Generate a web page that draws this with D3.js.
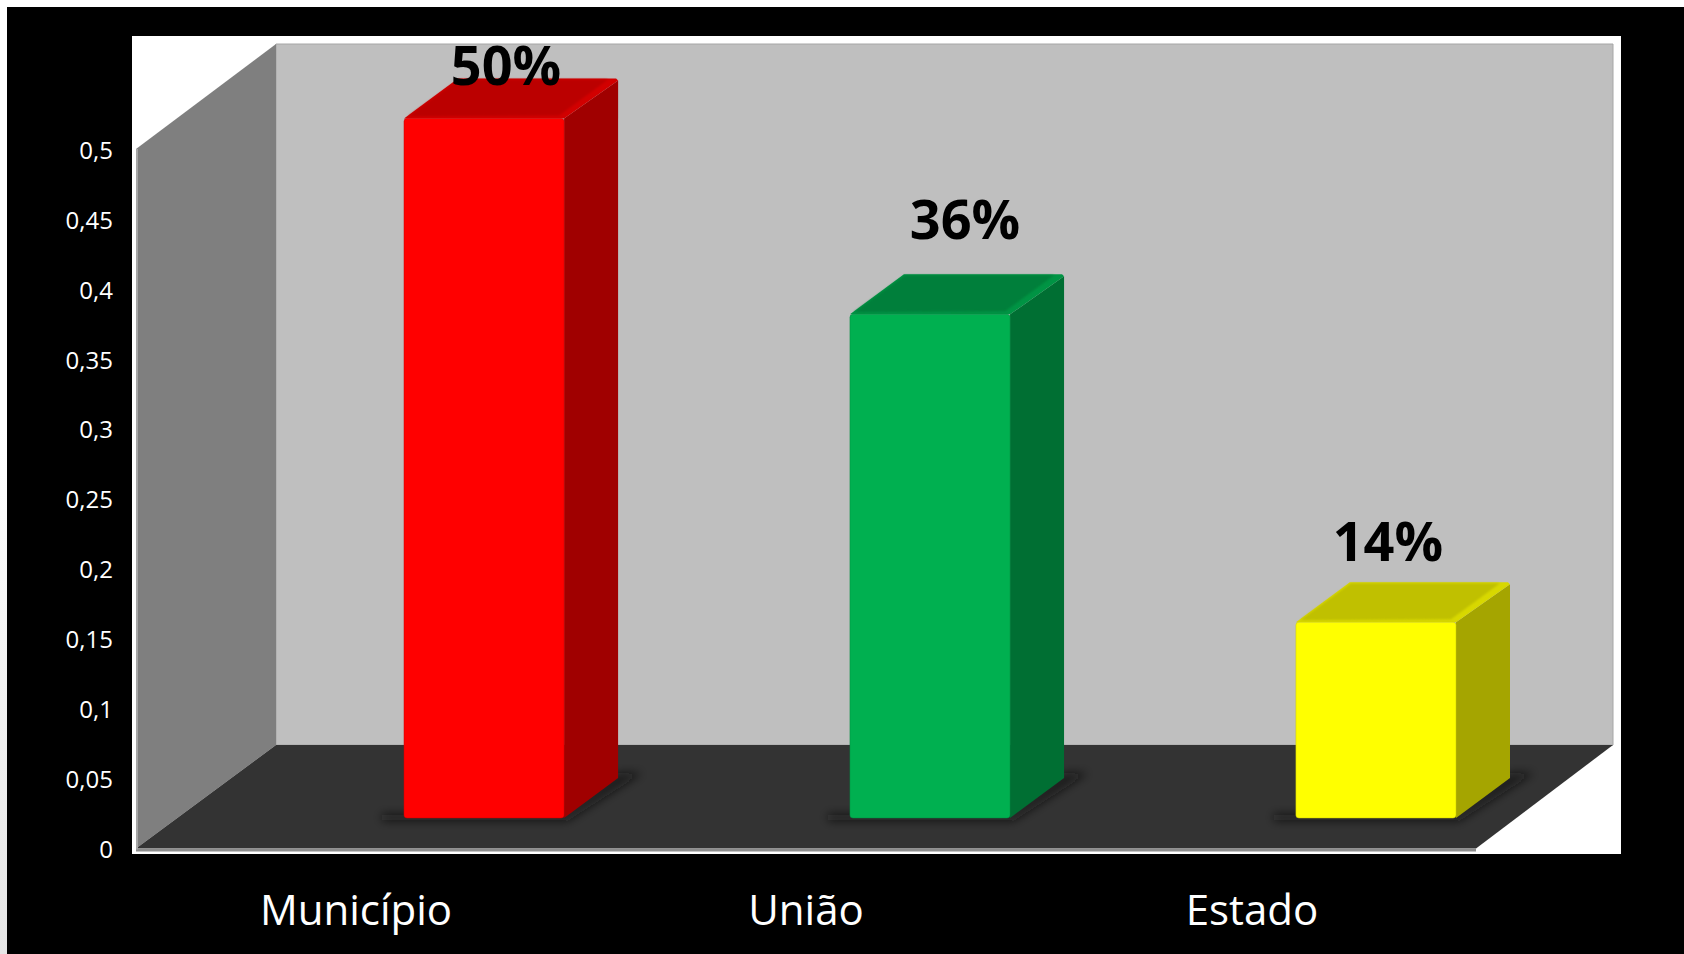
<!DOCTYPE html>
<html>
<head>
<meta charset="utf-8">
<script src="https://cdn.jsdelivr.net/npm/d3@7"></script>
<style>
    html, body { margin: 0; padding: 0; background: #fff; }
    svg { display: block; }
    text { font-family: "Open Sans", sans-serif; }
</style>
</head>
<body>
<svg id="chart" width="1684" height="954"></svg>
<script>
const categories = ["Município", "União", "Estado"];
const values = [0.5, 0.36, 0.14];
const valueLabels = ["50%", "36%", "14%"];
const yTicks = [0, 0.05, 0.1, 0.15, 0.2, 0.25, 0.3, 0.35, 0.4, 0.45, 0.5];

// face colours of each bar: front, top, bevel of the top, side
const frontColors = ["#ff0000", "#00b050", "#ffff00"];
const topColors = ["#bb0000", "#007f3a", "#c0c000"];
const bevelColors = ["#d20000", "#009444", "#d8d800"];
const sideColors = ["#a00000", "#006f33", "#a5a500"];

// the labels were placed by hand in the original, so they need a nudge
const labelNudgeX = [22, 35, 12];
const labelNudgeY = [34, 75, 61];
const categoryNudgeX = [-128, -124, -124];

const width = 1684;
const height = 954;

const svg = d3.select("#chart");
const defs = svg.append("defs");

defs.append("filter")
    .attr("id", "floorShadow")
    .attr("x", "-30%").attr("y", "-30%")
    .attr("width", "160%").attr("height", "160%")
    .append("feGaussianBlur")
    .attr("stdDeviation", 5);

defs.append("filter")
    .attr("id", "bevelBlur")
    .attr("x", "-5%").attr("y", "-10%")
    .attr("width", "110%").attr("height", "120%")
    .append("feGaussianBlur")
    .attr("stdDeviation", 1.2);

const pageFade = defs.append("linearGradient")
    .attr("id", "pageFade")
    .attr("x1", 0).attr("y1", 0)
    .attr("x2", 0).attr("y2", 1);
pageFade.append("stop").attr("offset", "45%").attr("stop-color", "#ffffff");
pageFade.append("stop").attr("offset", "100%").attr("stop-color", "#e6e6e6");

// page behind the frame
svg.append("rect").attr("width", width).attr("height", height)
    .attr("fill", "url(#pageFade)");

// frame
svg.append("rect").attr("x", 7).attr("y", 7)
    .attr("width", width - 7).attr("height", height - 7)
    .attr("fill", "#000");

const plot = { left: 132, right: 1621, top: 36, bottom: 854 };
svg.append("rect")
    .attr("x", plot.left).attr("y", plot.top)
    .attr("width", plot.right - plot.left)
    .attr("height", plot.bottom - plot.top)
    .attr("fill", "#fff");

// 3d box
const yScale = d3.scaleLinear().domain([0, 0.5]).range([848.5, 149]);
const wall = { x0: 136, x1: 276, xEnd: 1613, xFloorEnd: 1476, top: 44, floorBack: 745 };

const pathOf = d3.line();

svg.append("path")
    .attr("d", pathOf([[wall.x1, wall.top], [wall.xEnd, wall.top], [wall.xEnd, wall.floorBack], [wall.x1, wall.floorBack]]) + "Z")
    .attr("fill", "#bfbfbf")
    .attr("stroke", "#a6a6a6")
    .attr("stroke-width", 1);

svg.append("path")
    .attr("d", pathOf([[wall.x0, yScale(0.5)], [wall.x1, wall.top], [wall.x1, wall.floorBack], [wall.x0, yScale(0)]]) + "Z")
    .attr("fill", "#7f7f7f");

svg.append("path")
    .attr("d", pathOf([[wall.x0, yScale(0)], [wall.x1, wall.floorBack], [wall.xEnd, wall.floorBack], [wall.xFloorEnd, yScale(0)]]) + "Z")
    .attr("fill", "#333333");

// front and left lips of the box
svg.append("path")
    .attr("d", pathOf([[wall.x0, yScale(0) + 1.5], [wall.xFloorEnd, yScale(0) + 1.5]]))
    .attr("stroke", "#8c8c8c").attr("stroke-width", 3).attr("fill", "none");
svg.append("path")
    .attr("d", pathOf([[wall.x0 + 1, yScale(0.5)], [wall.x0 + 1, yScale(0) + 1]]))
    .attr("stroke", "#a6a6a6").attr("stroke-width", 2).attr("fill", "none");

// bars
const xScale = d3.scaleBand()
    .domain(categories)
    .range([404, 1456])
    .paddingInner(0.641);

const barPlaneY = d3.scaleLinear().domain([0, 0.5]).range([818, 118.5]);
const barDepthX = 54;
const barDepthY = 40;

const barData = categories.map((c, i) => ({
    name: c, value: values[i], label: valueLabels[i],
    front: frontColors[i], top: topColors[i], bevel: bevelColors[i], side: sideColors[i],
    nudgeX: labelNudgeX[i], nudgeY: labelNudgeY[i]
}));

const bars = svg.append("g").selectAll("g")
    .data(barData)
    .join("g");

// soft shadow on the floor
bars.append("path")
    .attr("d", d => {
        let x0 = xScale(d.name), x1 = x0 + xScale.bandwidth(), y = barPlaneY(0);
        return pathOf([
            [x0 - 22, y + 3], [x1 + 3, y + 3],
            [x1 + barDepthX + 24, y - barDepthY - 5], [x1 + barDepthX, y - barDepthY - 5],
            [x1, y - 4], [x0 - 22, y - 4]
        ]) + "Z";
    })
    .attr("fill", "#141414")
    .attr("fill-opacity", 0.7)
    .attr("filter", "url(#floorShadow)");

// side face
bars.append("path")
    .attr("d", d => {
        let x1 = xScale(d.name) + xScale.bandwidth(), y0 = barPlaneY(0), y1 = barPlaneY(d.value);
        return pathOf([[x1, y1], [x1 + barDepthX, y1 - barDepthY + 2], [x1 + barDepthX, y0 - barDepthY], [x1, y0]]) + "Z";
    })
    .attr("fill", d => d.side);

// top face, the lighter colour shows as a bevel round the darker middle
bars.append("path")
    .attr("d", d => {
        let x0 = xScale(d.name), x1 = x0 + xScale.bandwidth(), y1 = barPlaneY(d.value);
        return pathOf([[x0, y1], [x0 + barDepthX, y1 - barDepthY], [x1 + barDepthX - 2, y1 - barDepthY], [x1 + barDepthX, y1 - barDepthY + 2], [x1, y1]]) + "Z";
    })
    .attr("fill", d => d.bevel);

bars.append("path")
    .attr("d", d => {
        let x0 = xScale(d.name), x1 = x0 + xScale.bandwidth(), y1 = barPlaneY(d.value);
        return pathOf([[x0 + 4, y1 - 2], [x0 + barDepthX + 1, y1 - barDepthY + 1], [x1 + barDepthX - 10, y1 - barDepthY + 1], [x1 - 5, y1 - 3]]) + "Z";
    })
    .attr("fill", d => d.top)
    .attr("filter", "url(#bevelBlur)");

// front face
bars.append("rect")
    .attr("x", d => xScale(d.name))
    .attr("y", d => barPlaneY(d.value))
    .attr("width", xScale.bandwidth())
    .attr("height", d => barPlaneY(0) - barPlaneY(d.value))
    .attr("rx", 3)
    .attr("fill", d => d.front)
    .attr("stroke", d => d3.color(d.front).darker(0.6))
    .attr("stroke-opacity", 0.5)
    .attr("stroke-width", 1);

// value labels
bars.append("text")
    .attr("x", d => xScale(d.name) + xScale.bandwidth() / 2 + d.nudgeX)
    .attr("y", d => barPlaneY(d.value) - d.nudgeY)
    .attr("text-anchor", "middle")
    .attr("font-size", 54)
    .attr("font-weight", 700)
    .attr("fill", "#000")
    .text(d => d.label);

// y axis, only the labels are visible
const yAxis = d3.axisLeft(yScale)
    .tickValues(yTicks)
    .tickSize(0)
    .tickPadding(0)
    .tickFormat(d => String(d).replace(".", ","));

svg.append("g")
    .attr("transform", "translate(113,1.5)")
    .call(yAxis)
    .call(g => g.select(".domain").remove())
    .selectAll("text")
    .attr("font-family", "\"Open Sans\", sans-serif")
    .attr("font-size", 24)
    .attr("fill", "#fff");

// category labels sit to the left of their bars
svg.append("g").selectAll("text")
    .data(categories)
    .join("text")
    .attr("x", (d, i) => xScale(d) + xScale.bandwidth() / 2 + categoryNudgeX[i])
    .attr("y", 925)
    .attr("text-anchor", "middle")
    .attr("font-size", 42)
    .attr("fill", "#fff")
    .text(d => d);
</script>
</body>
</html>
